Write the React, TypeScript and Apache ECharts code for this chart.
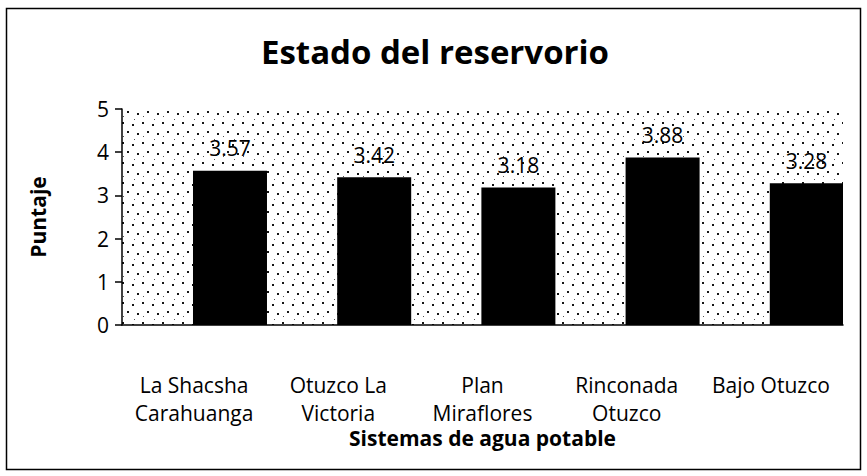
import React, { useEffect, useRef } from 'react';
import * as echarts from 'echarts';

const categories = ['La Shacsha\nCarahuanga', 'Otuzco La\nVictoria', 'Plan\nMiraflores', 'Rinconada\nOtuzco', 'Bajo Otuzco'];
const spacerValues: (number | null)[] = [null, null, null, null, null];
const scores = [3.57, 3.42, 3.18, 3.88, 3.28];
const yMin = 0;
const yMax = 5;
const yStep = 1;

const FONT = '"Open Sans", "Noto Sans", sans-serif';

function makeDots(): HTMLCanvasElement {
  const c = document.createElement('canvas');
  c.width = 20;
  c.height = 20;
  const ctx = c.getContext('2d')!;
  ctx.fillStyle = '#ffffff';
  ctx.fillRect(0, 0, 20, 20);
  ctx.fillStyle = '#151515';
  ctx.fillRect(2, 2, 2, 2);
  ctx.fillRect(12, 4, 2, 2);
  ctx.fillRect(7, 11, 2, 2);
  ctx.fillRect(17, 13, 2, 2);
  ctx.fillStyle = '#555555';
  ctx.fillRect(3, 16, 1, 1);
  ctx.fillRect(14, 19, 1, 1);
  return c;
}

export default function App() {
  const ref = useRef<HTMLDivElement>(null);
  useEffect(() => {
    if (!ref.current) return;
    const chart = echarts.init(ref.current, null, { renderer: 'svg' });
    const dots = makeDots();
    chart.setOption({
      animation: false,
      backgroundColor: '#ffffff',
      title: {
        text: 'Estado del reservorio',
        left: 430,
        textAlign: 'center',
        top: 30,
        textStyle: { fontFamily: FONT, fontWeight: 'bold', fontSize: 33, color: '#000' },
      },
      graphic: [
        {
          type: 'rect',
          shape: { x: 6.5, y: 8.5, width: 854, height: 461 },
          style: { fill: 'none', stroke: '#000', lineWidth: 1.5 },
          silent: true,
          z: -1,
        },
      ],
      grid: {
        left: 122,
        right: 24,
        top: 109,
        bottom: 151,
        show: true,
        borderWidth: 0,
        backgroundColor: { image: dots, repeat: 'repeat' },
      },
      xAxis: {
        type: 'category',
        data: categories,
        name: 'Sistemas de agua potable',
        nameLocation: 'middle',
        nameGap: 101,
        nameTextStyle: { fontFamily: FONT, fontWeight: 'bold', fontSize: 21, color: '#000' },
        axisLine: { show: true, lineStyle: { color: '#000', width: 1.5 } },
        axisTick: { show: false },
        axisLabel: {
          interval: 0,
          fontFamily: FONT,
          fontSize: 21,
          color: '#000',
          lineHeight: 28,
          margin: 46,
        },
      },
      yAxis: {
        type: 'value',
        min: yMin,
        max: yMax,
        interval: yStep,
        name: 'Puntaje',
        nameLocation: 'middle',
        nameGap: 74,
        nameTextStyle: { fontFamily: FONT, fontWeight: 'bold', fontSize: 21, color: '#000' },
        axisLine: { show: true, lineStyle: { color: '#000', width: 1.5 } },
        axisTick: { show: true, inside: false, length: 7, lineStyle: { color: '#000', width: 1.5 } },
        axisLabel: { fontFamily: FONT, fontSize: 21, color: '#000', margin: 13 },
        splitLine: { show: false },
      },
      series: [
        {
          type: 'bar',
          data: spacerValues,
          barWidth: 74,
          barGap: '-3%',
          itemStyle: { color: 'transparent' },
          silent: true,
        },
        {
          type: 'bar',
          data: scores,
          barWidth: 74,
          barGap: '-3%',
          itemStyle: { color: '#000' },
          label: {
            show: true,
            position: 'top',
            distance: 12,
            fontFamily: FONT,
            fontSize: 21,
            color: '#000',
            formatter: (p: any) => p.value.toFixed(2),
          },
        },
      ],
    });
    return () => chart.dispose();
  }, []);
  return <div ref={ref} style={{ position: 'fixed', left: 0, top: 0, width: 867, height: 476 }} />;
}
